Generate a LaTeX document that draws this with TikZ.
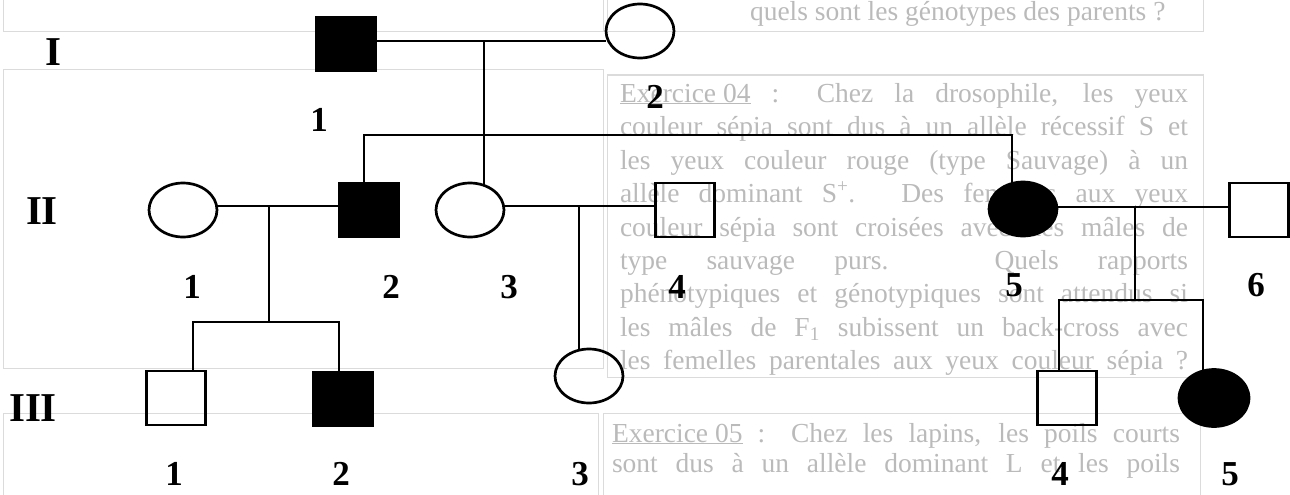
\documentclass[tikz,border=0pt]{standalone}
\usepackage{fontspec}
\setmainfont{Liberation Serif}
\usetikzlibrary{shapes.geometric,calc}
\begin{document}
\begin{tikzpicture}[x=1pt,y=-1pt,
  every node/.style={inner sep=0pt, outer sep=0pt},
  male/.style={draw, line width=2.7pt, rectangle, minimum width=59pt, minimum height=54pt},
  female/.style={draw, line width=2.7pt, ellipse, minimum width=68pt, minimum height=54pt},
  affected/.style={fill=black},
  link/.style={line width=2.4pt},
  gen/.style={font=\fontsize{41}{41}\selectfont\bfseries},
  num/.style={font=\fontsize{35}{35}\selectfont\bfseries},
  faded/.style={text=black!27, anchor=base west, font=\fontsize{27.5}{30}\selectfont},
  fadedbox/.style={draw=black!14, line width=1pt},
]
\useasboundingbox (0,0) rectangle (1290,495);
% faded background page
\draw[fadedbox] (3,-5) rectangle (603,32);
\draw[fadedbox] (607,-5) rectangle (1203,32);
\draw[fadedbox] (3,70) rectangle (603,368);
\draw[fadedbox] (607,75) rectangle (1203,377);
\draw[fadedbox] (3,413) rectangle (598,500);
\draw[fadedbox] (603,413) rectangle (1200,500);
\newcommand{\jline}[1]{\makebox[568pt][s]{#1}}
\node[faded] (t0) at (750,21) {quels sont les génotypes des parents ?};
\node[faded] (t1) at (620,102) {\jline{\underline{Exercice 04} : Chez la drosophile, les yeux}};
\node[faded] (t2) at (620,135) {\jline{couleur sépia sont dus à un allèle récessif S et}};
\node[faded] (t3) at (620,169) {\jline{les yeux couleur rouge (type Sauvage) à un}};
\node[faded] (t4) at (620,202) {\jline{allèle dominant S\textsuperscript{+}. Des femelles aux yeux}};
\node[faded] (t5) at (620,236) {\jline{couleur sépia sont croisées avec des mâles de}};
\node[faded] (t6) at (620,269) {\jline{type sauvage purs. Quels rapports}};
\node[faded] (t7) at (620,302) {\jline{phénotypiques et génotypiques sont attendus si}};
\node[faded] (t8) at (620,336) {\jline{les mâles de F\textsubscript{1} subissent un back-cross avec}};
\node[faded] (t9) at (620,369) {\jline{les femelles parentales aux yeux couleur sépia ?}};
\node[faded] (u1) at (612,442) {\jline{\underline{Exercice 05} : Chez les lapins, les poils courts}};
\node[faded] (u2) at (612,472) {\jline{sont dus à un allèle dominant L et les poils}};
% individuals
\node[male,affected] (I1) at (346,44) {};
\node[female] (I2) at (640,31) {};
\node[female] (II1) at (183,210) {};
\node[male,affected] (II2) at (369,210) {};
\node[female] (II3) at (470,210) {};
\node[male] (II4) at (685,210) {};
\node[female,affected] (II5) at (1023,209) {};
\node[male] (II6) at (1259,210) {};
\node[male] (III1) at (176,398) {};
\node[male,affected] (III2) at (343,399) {};
\node[female] (III3) at (589,376) {};
\node[male] (III4) at (1067,398) {};
\node[female,affected, minimum width=70pt, minimum height=57pt] (III5) at (1214,398) {};
% junction points
\coordinate (mI) at (484,41);
\coordinate (sL) at (364,135);
\coordinate (sR) at (1012,135);
\coordinate (m12) at (269,206);
\coordinate (c12) at (269,322);
\coordinate (c12L) at (193,322);
\coordinate (c12R) at (339,322);
\coordinate (m34) at (579,206);
\coordinate (m56) at (1135,207);
\coordinate (c56) at (1135,300);
\coordinate (c56L) at (1059,300);
\coordinate (c56R) at (1203,300);
% connectors
\draw[link] (I1.east |- mI) -- (I2.west |- mI);
\draw[link] (mI) -- ($(mI |- II3.north)+(0,2)$);
\draw[link] (II2.north -| sL) -- (sL) -- (sR) -- ($(sR |- II5.north)+(0,1)$);
\draw[link] (II1.east |- m12) -- (II2.west |- m12);
\draw[link] (m12) -- (c12);
\draw[link] (III1.north -| c12L) -- (c12L) -- (c12R) -- (III2.north -| c12R);
\draw[link] (II3.east |- m34) -- (II4.west |- m34);
\draw[link] (m34) -- ($(m34 |- III3.north)+(0,1)$);
\draw[link] (II5.east |- m56) -- (II6.west |- m56);
\draw[link] (m56) -- (c56);
\draw[link] (III4.north -| c56L) -- (c56L) -- (c56R) -- ($(III5.north -| c56R)+(0,1)$);
% generation labels
\node[gen] (gI) at (53,52) {I};
\node[gen] (gII) at (42,211) {II};
\node[gen] (gIII) at (33,408) {III};
% individual numbers
\node[num] (nI1) at (319,120) {1};
\node[num] (nI2) at (655,97) {2};
\node[num] (nII1) at (192,287) {1};
\node[num] (nII2) at (391,287) {2};
\node[num] (nII3) at (509,287) {3};
\node[num] (nII4) at (677,287) {4};
\node[num] (nII5) at (1014,285) {5};
\node[num] (nII6) at (1256,285) {6};
\node[num] (nIII1) at (174,474) {1};
\node[num] (nIII2) at (341,474) {2};
\node[num] (nIII3) at (580,474) {3};
\node[num] (nIII4) at (1060,474) {4};
\node[num] (nIII5) at (1230,474) {5};
\end{tikzpicture}
\end{document}
